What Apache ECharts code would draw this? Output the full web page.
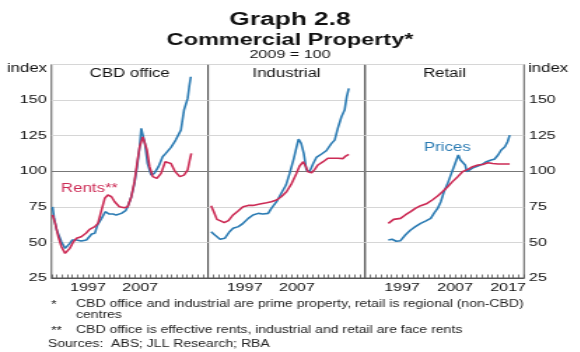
<!DOCTYPE html>
<html>
<head>
<meta charset="utf-8">
<script src="https://cdn.jsdelivr.net/npm/echarts@6/dist/echarts.min.js"></script>
<style>
html,body{margin:0;padding:0;background:#fff;overflow:hidden;width:580px;height:352px;}
#c{position:absolute;left:0;top:0;height:352px;transform-origin:0 0;}
</style>
</head>
<body>
<div id="c"></div>
<script>
// ---- data (decimal year, index 2009 = 100) ----
const cbdPrices = [[1990.2,75],[1990.5,67],[1991.0,58.7],[1991.9,50.5],[1992.6,45.8],[1993.5,49.3],[1994.0,51.7],[1994.8,51.7],[1995.7,51],[1996.7,51.7],[1997.7,55.9],[1998.3,56.4],[1998.8,62.2],[1999.6,66.9],[2000.3,71.6],[2001.0,70],[2001.8,70],[2002.4,69.2],[2003.4,70.4],[2004.2,72.3],[2004.6,75.1],[2005.3,82.1],[2005.9,91.5],[2006.4,103.2],[2006.9,117.2],[2007.2,130.1],[2007.5,128.9],[2007.9,119.6],[2008.4,105.5],[2009.1,97.3],[2009.7,98.5],[2010.5,103.2],[2011.3,110.2],[2011.9,112.6],[2012.9,116.8],[2013.8,121.9],[2014.8,128.9],[2015.4,143],[2016.1,151.2],[2016.4,159.4],[2016.7,166.4]];
const cbdRents = [[1990.2,69.3],[1990.7,63.4],[1991.3,54],[1991.9,47],[1992.6,42.3],[1993.0,41.6],[1993.5,45.8],[1994.2,50.5],[1994.8,52.9],[1995.7,54],[1996.6,56.4],[1997.3,59.2],[1998.3,61.1],[1998.9,63.4],[1999.6,72.8],[2000.2,81],[2000.8,83.3],[2001.5,82.1],[2002.1,78.6],[2003.0,75.1],[2004.0,74.4],[2004.6,75.1],[2005.3,82.1],[2005.9,92.7],[2006.5,107.9],[2006.9,117.2],[2007.5,124.2],[2007.9,125.4],[2008.3,114.9],[2008.8,103.2],[2009.4,96.2],[2010.2,95],[2011.0,98.5],[2011.8,106.7],[2012.3,107.9],[2012.9,105.5],[2013.7,99.7],[2014.6,96.2],[2015.4,97.3],[2016.1,100.9],[2016.5,107.9],[2016.8,112.6]];
const indPrices = [[1990.6,57.5],[1991.3,55.2],[1992.3,52.2],[1992.8,51.2],[1993.2,52.9],[1994.1,57.5],[1994.8,59.9],[1995.8,61.1],[1996.7,63.4],[1997.7,66.9],[1998.6,69.3],[1999.6,70.4],[2000.5,70],[2001.5,70.4],[2002.1,73.9],[2003.1,78.6],[2004.0,84.5],[2004.9,90.3],[2005.6,98.5],[2006.4,109.1],[2006.9,116.8],[2007.3,122.6],[2007.8,119.6],[2008.3,112.6],[2008.8,100.9],[2009.4,99.7],[2010.1,105.5],[2010.7,109.7],[2011.7,112.1],[2012.6,114.4],[2013.6,119.6],[2014.2,121.9],[2014.8,130.1],[2015.5,138.3],[2016.1,143],[2016.5,152.3],[2016.9,158.2]];
const indRents = [[1990.6,75.8],[1991.1,71.6],[1991.7,66.2],[1992.3,65.3],[1993.1,63.9],[1993.9,65.3],[1994.8,69.3],[1995.8,72.3],[1996.7,75.1],[1997.7,76],[1998.6,76],[1999.9,77],[2001.2,77.9],[2002.1,78.6],[2003.1,79.8],[2004.0,82.1],[2005.0,85.6],[2006.0,91.5],[2006.9,98.5],[2007.5,103.7],[2008.2,106.7],[2008.7,103.2],[2009.1,99.7],[2009.8,99],[2010.4,101.3],[2011.0,104.4],[2012.0,106.7],[2012.9,109.1],[2013.9,109.1],[2014.8,109.1],[2015.8,108.9],[2016.3,110.7],[2016.9,111.9]];
const retPrices = [[1994.4,51.7],[1995.1,52.2],[1995.9,50.8],[1996.7,51.2],[1997.6,55.2],[1998.6,58.7],[1999.5,61.1],[2000.5,63.4],[2001.4,65],[2002.4,66.9],[2003.0,70.4],[2003.7,73.9],[2004.3,78.6],[2004.9,85.6],[2005.6,91.5],[2006.3,98.5],[2007.0,105.5],[2007.6,111.4],[2008.0,107.9],[2008.4,107.9],[2008.9,104.4],[2009.2,99.7],[2009.7,100.4],[2010.5,102.7],[2011.3,103.7],[2012.2,105.1],[2012.9,106.7],[2013.8,107.9],[2014.4,108.4],[2015.1,111.4],[2015.7,114.9],[2016.4,117.2],[2016.9,120.7],[2017.3,125.4]];
const retRents = [[1994.4,63.4],[1995.4,66.2],[1996.7,66.9],[1997.6,69.3],[1998.6,71.6],[1999.5,73.9],[2000.5,75.8],[2001.7,77.4],[2002.7,79.8],[2003.7,82.6],[2004.6,85.6],[2005.6,89.1],[2006.5,92.7],[2007.5,96.2],[2008.4,99.7],[2009.4,101.3],[2010.3,103.2],[2011.3,104.4],[2012.2,104.8],[2013.2,106],[2014.1,105.5],[2015.1,105.1],[2016.0,105.1],[2017.3,105.1]];
const panelTitles = ['CBD office','Industrial','Retail'];
const yearLabels = [[1997,2007],[1997,2007],[1997,2007,2017]];
const yMin = 25, yMax = 175, yStep = 25;
const xMin = 1990, xMax = 2020;

// ---- layout (drawn narrow, stretched horizontally like the reference) ----
const S = 1.4;
const W = 580 / S;
const el = document.getElementById('c');
el.style.width = W + 'px';
el.style.transform = 'scaleX(' + S + ')';

const FONT = '"Liberation Sans", Arial, sans-serif';
const BLUE = '#2b7bb3';
const RED = '#cc2b55';
const edges = [51.5, 208, 365, 524].map(v => v / S);
const TOP = 64.5, BOTTOM = 278;

const grids = [], xAxes = [], yAxes = [], series = [];
const panelData = [[cbdPrices, cbdRents], [indPrices, indRents], [retPrices, retRents]];
for (let i = 0; i < 3; i++) {
  grids.push({left: edges[i], width: edges[i+1] - edges[i], top: TOP, height: BOTTOM - TOP,
    show: true, borderColor: '#555', borderWidth: 1, backgroundColor: 'transparent'});
  const labs = yearLabels[i];
  xAxes.push({type: 'value', gridIndex: i, min: xMin, max: xMax, interval: 1,
    axisLine: {show: true, lineStyle: {color: '#555', width: 1}},
    axisTick: {show: true, inside: true, length: 3.5, lineStyle: {color: '#555', width: 0.8}},
    splitLine: {show: false},
    axisLabel: {show: true, margin: 4, color: '#111', fontSize: 11.5, fontFamily: FONT,
      formatter: v => labs.indexOf(v) >= 0 ? String(v) : ''}});
  yAxes.push({type: 'value', gridIndex: i, min: yMin, max: yMax, interval: yStep,
    position: i === 2 ? 'right' : 'left',
    axisLine: {show: false}, axisTick: {show: false},
    splitLine: {show: true, lineStyle: {color: '#d6d6d6', width: 1}},
    axisLabel: {show: i !== 1, margin: 3.5, color: '#111', fontSize: 11.5, fontFamily: FONT,
      formatter: v => v === yMax ? '' : String(v)}});
  series.push({type: 'line', xAxisIndex: i, yAxisIndex: i, data: panelData[i][0], symbol: 'none',
    lineStyle: {color: BLUE, width: 1.6}, z: 3,
    markLine: {silent: true, symbol: 'none', z: 1, animation: false, label: {show: false},
      lineStyle: {color: '#777', width: 1, type: 'solid'}, data: [{yAxis: 100}]}});
  series.push({type: 'line', xAxisIndex: i, yAxisIndex: i, data: panelData[i][1], symbol: 'none',
    lineStyle: {color: RED, width: 1.6}, z: 4});
}

function txt(text, x, y, size, opts) {
  opts = opts || {};
  return {type: 'text', x: x, y: y, z: 10, silent: true,
    style: {text: text, fill: opts.fill || '#111', fontSize: size, fontFamily: FONT,
      fontWeight: opts.bold ? 'bold' : 'normal',
      textAlign: opts.align || 'left', textVerticalAlign: 'middle'}};
}
const cx = W / 2;
const FN = 10;
const graphic = [
  txt('Graph 2.8', cx, 20, 18.8, {bold: true, align: 'center'}),
  txt('Commercial Property*', cx, 40, 16.8, {bold: true, align: 'center'}),
  txt('2009 = 100', cx, 55, 11.5, {align: 'center'}),
  txt('index', 47 / S, 69, 12, {align: 'right'}),
  txt('index', 528 / S, 69, 12, {align: 'left'}),
  txt(panelTitles[0], (edges[0] + edges[1]) / 2, 74, 12, {align: 'center'}),
  txt(panelTitles[1], (edges[1] + edges[2]) / 2, 74, 12, {align: 'center'}),
  txt(panelTitles[2], (edges[2] + edges[3]) / 2, 74, 12, {align: 'center'}),
  txt('Rents**', 61 / S, 189, 12, {fill: RED}),
  txt('Prices', 424 / S, 148, 12, {fill: BLUE}),
  txt('*', 51 / S, 305.5, FN, {fill: '#222'}),
  txt('CBD office and industrial are prime property, retail is regional (non-CBD)', 76 / S, 304.5, FN, {fill: '#222'}),
  txt('centres', 76 / S, 315.5, FN, {fill: '#222'}),
  txt('**', 51 / S, 331, FN, {fill: '#222'}),
  txt('CBD office is effective rents, industrial and retail are face rents', 76 / S, 330, FN, {fill: '#222'}),
  txt('Sources:  ABS; JLL Research; RBA', 48 / S, 344, FN, {fill: '#222'})
];

const chart = echarts.init(el, null, {renderer: 'canvas', width: W, height: 352});
chart.setOption({animation: false, grid: grids, xAxis: xAxes, yAxis: yAxes, series: series, graphic: graphic});
</script>
</body>
</html>
